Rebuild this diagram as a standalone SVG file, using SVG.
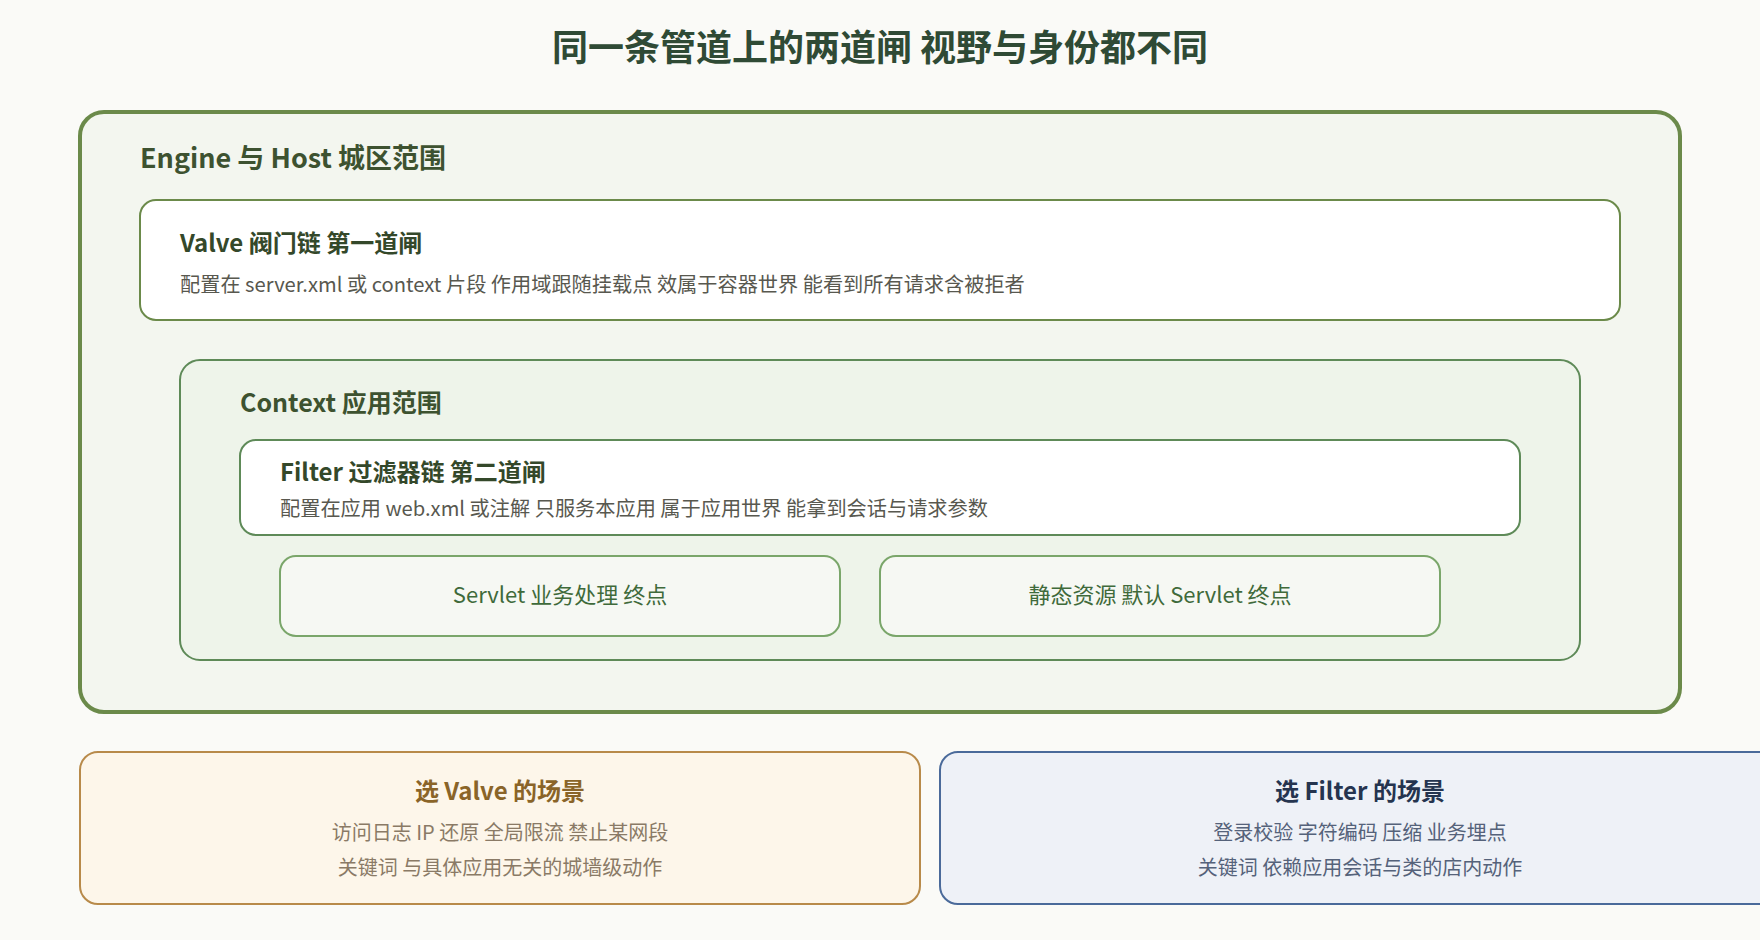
<svg xmlns="http://www.w3.org/2000/svg" width="1760" height="940" viewBox="0 0 1760 940">
<style>
text{font-family:"Noto Sans CJK SC","Noto Sans",sans-serif}
.t{font-size:36px;font-weight:700;fill:#2f4a35;text-anchor:middle}
.sec{font-weight:700;fill:#3d5230}
.nt{font-size:24px;font-weight:700;fill:#34482a}
.sub{font-size:20.2px;fill:#58584f}
.end{font-size:22px;fill:#3f6a3a;text-anchor:middle}
.vt{font-size:24px;font-weight:700;fill:#8a6428;text-anchor:middle}
.vl{font-size:20px;fill:#8a7a66;text-anchor:middle}
.ft{font-size:24px;font-weight:700;fill:#25344f;text-anchor:middle}
.fl{font-size:20px;fill:#55627a;text-anchor:middle}
</style>
<rect x="0" y="0" width="1760" height="940" fill="#fafaf7"/>
<text class="t" x="880" y="61">同一条管道上的两道闸 视野与身份都不同</text>
<g id="engine-host">
<rect x="80" y="112" width="1600" height="600" rx="24" fill="#f3f6ef" stroke="#6b8a4a" stroke-width="4"/>
<text class="sec" x="140" y="168" font-size="27">Engine 与 Host 城区范围</text>
</g>
<g id="valve">
<rect x="140" y="200" width="1480" height="120" rx="16" fill="#ffffff" stroke="#6b8a4a" stroke-width="2"/>
<text class="nt" x="180" y="252">Valve 阀门链 第一道闸</text>
<text class="sub" x="180" y="292">配置在 server.xml 或 context 片段 作用域跟随挂载点 效属于容器世界 能看到所有请求含被拒者</text>
</g>
<g id="context">
<rect x="180" y="360" width="1400" height="300" rx="20" fill="#eef4ea" stroke="#5e8a58" stroke-width="2"/>
<text class="sec" x="240" y="412" font-size="25">Context 应用范围</text>
</g>
<g id="filter">
<rect x="240" y="440" width="1280" height="95" rx="16" fill="#ffffff" stroke="#5e8a58" stroke-width="2"/>
<text class="nt" x="280" y="481">Filter 过滤器链 第二道闸</text>
<text class="sub" x="280" y="516">配置在应用 web.xml 或注解 只服务本应用 属于应用世界 能拿到会话与请求参数</text>
</g>
<g id="servlet">
<rect x="280" y="556" width="560" height="80" rx="16" fill="#f6f8f3" stroke="#7aa66a" stroke-width="2"/>
<text class="end" x="560" y="603">Servlet 业务处理 终点</text>
</g>
<g id="static">
<rect x="880" y="556" width="560" height="80" rx="16" fill="#f6f8f3" stroke="#7aa66a" stroke-width="2"/>
<text class="end" x="1160" y="603">静态资源 默认 Servlet 终点</text>
</g>
<g id="choose-valve">
<rect x="80" y="752" width="840" height="152" rx="18" fill="#fdf6ea" stroke="#b88a4a" stroke-width="2"/>
<text class="vt" x="500" y="800">选 Valve 的场景</text>
<text class="vl" x="500" y="840">访问日志 IP 还原 全局限流 禁止某网段</text>
<text class="vl" x="500" y="875">关键词 与具体应用无关的城墙级动作</text>
</g>
<g id="choose-filter">
<rect x="940" y="752" width="840" height="152" rx="18" fill="#eef1f7" stroke="#4a6a9a" stroke-width="2"/>
<text class="ft" x="1360" y="800">选 Filter 的场景</text>
<text class="fl" x="1360" y="840">登录校验 字符编码 压缩 业务埋点</text>
<text class="fl" x="1360" y="875">关键词 依赖应用会话与类的店内动作</text>
</g>
<g id="connectors"/>
</svg>
